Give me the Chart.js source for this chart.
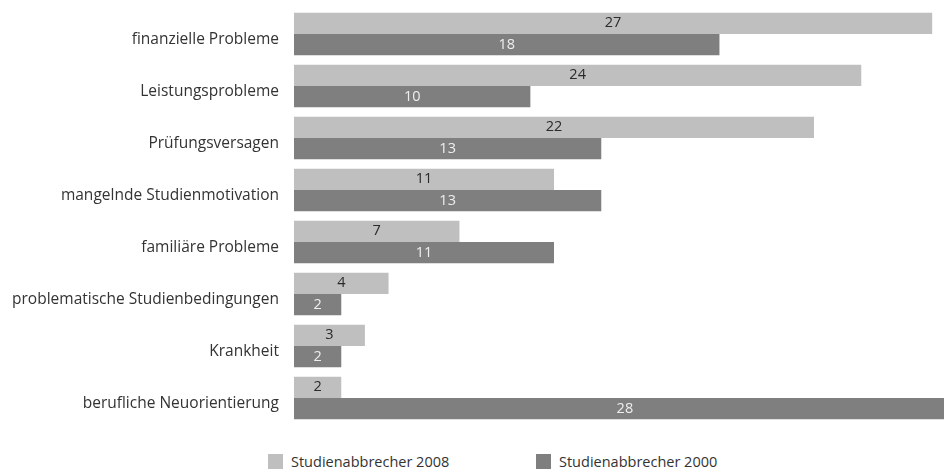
<!DOCTYPE html>
<html>
<head>
<meta charset="utf-8">
<script src="https://cdn.jsdelivr.net/npm/chart.js@4"></script>
<style>
    body { margin: 0; background: #fff; font-family: "Open Sans", sans-serif; }
    #wrap { position: relative; width: 944px; height: 440px; }
    #legend { position: absolute; top: 452px; left: 0; width: 944px; height: 20px; }
    .item { position: absolute; top: 0; display: flex; align-items: center; font-size: 14.5px; color: #333; }
    .box { width: 15px; height: 15px; margin-right: 8px; }
</style>
</head>
<body>
<div id="wrap"><canvas id="chart" width="944" height="440"></canvas></div>
<div id="legend"></div>
<script>
// Gründe für den Studienabbruch (Angaben in %)
const categories = [
    'finanzielle Probleme',
    'Leistungsprobleme',
    'Prüfungsversagen',
    'mangelnde Studienmotivation',
    'familiäre Probleme',
    'problematische Studienbedingungen',
    'Krankheit',
    'berufliche Neuorientierung'
];
const values2008 = [27, 24, 22, 11, 7, 4, 3, 2];
const values2000 = [18, 10, 13, 13, 11, 2, 2, 28];
const seriesLabels = ['Studienabbrecher 2008', 'Studienabbrecher 2000'];

const colors = ['#bfbfbf', '#7f7f7f'];
const labelColors = ['#2b2b2b', '#eeeeee'];

// draws the numbers in the middle of each bar
const valueLabels = {
    id: 'valueLabels',
    afterDatasetsDraw(chart) {
        const ctx = chart.ctx;
        ctx.save();
        ctx.font = '14.5px "Open Sans", sans-serif';
        ctx.textAlign = 'center';
        ctx.textBaseline = 'middle';
        chart.data.datasets.forEach((ds, i) => {
            ctx.fillStyle = labelColors[i];
            chart.getDatasetMeta(i).data.forEach((bar, j) => {
                const x = (bar.x + bar.base) / 2;
                ctx.fillText(ds.data[j], x, bar.y);
            });
        });
        ctx.restore();
    }
};

new Chart(document.getElementById('chart').getContext('2d'), {
    type: 'bar',
    data: {
        labels: categories,
        datasets: [
            { label: seriesLabels[0], data: values2008, backgroundColor: colors[0] },
            { label: seriesLabels[1], data: values2000, backgroundColor: colors[1] }
        ]
    },
    options: {
        indexAxis: 'y',
        responsive: false,
        animation: false,
        categoryPercentage: 0.82,
        barPercentage: 1,
        layout: { padding: { top: 8, bottom: 16, left: 0, right: 0 } },
        plugins: {
            legend: { display: false },
            tooltip: { enabled: false }
        },
        scales: {
            x: { display: false, min: 0, max: 27.5 },
            y: {
                grid: { display: false, drawTicks: false },
                border: { display: false },
                afterFit: (scale) => {
                    scale.width = 294;
                    scale.paddingTop = 0;
                    scale.paddingBottom = 0;
                },
                ticks: {
                    padding: 15,
                    labelOffset: 6,
                    color: '#333',
                    font: { family: '"Open Sans", sans-serif', size: 15.5 }
                }
            }
        }
    },
    plugins: [valueLabels]
});

// legend below the chart
const legendPos = [268, 536];
const legend = document.getElementById('legend');
seriesLabels.forEach((name, i) => {
    const item = document.createElement('div');
    item.className = 'item';
    item.style.left = legendPos[i] + 'px';
    item.innerHTML = `<span class="box" style="background:${colors[i]}"></span>${name}`;
    legend.appendChild(item);
});
</script>
</body>
</html>
